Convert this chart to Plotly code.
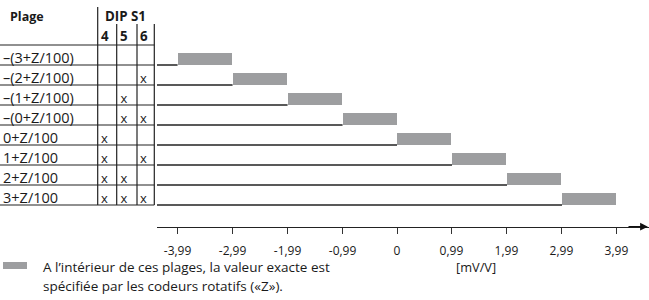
import plotly.graph_objects as go

# ---------------- data ----------------
range_labels = ["–(3+Z/100)", "–(2+Z/100)", "–(1+Z/100)", "–(0+Z/100)",
                "0+Z/100", "1+Z/100", "2+Z/100", "3+Z/100"]
range_start = [-3.99, -2.99, -1.99, -0.99, 0.00, 1.00, 2.00, 3.00]
range_end = [-3.00, -2.00, -1.00, 0.00, 0.99, 1.99, 2.99, 3.99]
dip4 = [0, 0, 0, 0, 1, 1, 1, 1]
dip5 = [0, 0, 1, 1, 0, 0, 1, 1]
dip6 = [0, 1, 0, 1, 0, 1, 0, 1]
dip_names = ["4", "5", "6"]
tick_vals = [-3.99, -2.99, -1.99, -0.99, 0, 0.99, 1.99, 2.99, 3.99]
tick_text = ["-3,99", "-2,99", "-1,99", "-0,99", "0", "0,99", "1,99", "2,99", "3,99"]
unit_label = "[mV/V]"
legend_lines = ["A l’intérieur de ces plages, la valeur exacte est",
                "spécifiée par les codeurs rotatifs («Z»)."]

# ---------------- style ----------------
FONT = "Open Sans"
TXT = "#1a1a1a"
BAR = "#9d9ea0"
LINE = "#222222"
W, H = 649, 300

rows = list(range(len(range_labels)))
XMIN, XMAX = -4.364, 4.582
Y_BOTTOM, Y_TOP = 8.085, -3.25
ydom0 = 1 - 226.7 / H
split = 157 / W

fig = go.Figure()

# grey range bars (sit on top of each row line)
fig.add_trace(go.Bar(
    orientation="h", y=rows,
    x=[e - s for s, e in zip(range_start, range_end)], base=range_start,
    width=0.625, offset=-0.625, marker=dict(color=BAR, line=dict(width=0)),
    xaxis="x2", yaxis="y", showlegend=False, hoverinfo="skip"))

# row lines from the left edge to the start of each range
lx, ly = [], []
for r, s in zip(rows, range_start):
    lx += [XMIN, s, None]
    ly += [r, r, None]
fig.add_trace(go.Scatter(x=lx, y=ly, mode="lines", line=dict(color=LINE, width=1.3),
                         xaxis="x2", yaxis="y", showlegend=False, hoverinfo="skip"))

# DIP table crosses
col_x = [104.5, 123.8, 143.5]
mx, my = [], []
for c, col in enumerate([dip4, dip5, dip6]):
    for r, v in zip(rows, col):
        if v:
            mx.append(col_x[c])
            my.append(r - 0.27)
fig.add_trace(go.Scatter(x=mx, y=my, mode="text", text=["x"] * len(mx),
                         textfont=dict(family=FONT, size=13, color=TXT),
                         xaxis="x", yaxis="y", showlegend=False, hoverinfo="skip"))

shapes = []
annotations = []
# table horizontal lines
for r in [-1] + rows:
    shapes.append(dict(type="line", xref="x", yref="y", x0=0, x1=154.3, y0=r, y1=r,
                       line=dict(color=LINE, width=1.2)))
# table vertical lines
shapes.append(dict(type="line", xref="x", yref="y", x0=97.7, x1=97.7, y0=-2.9, y1=rows[-1],
                   line=dict(color=LINE, width=1.2)))
for vx in [116.7, 137.0, 154.3]:
    shapes.append(dict(type="line", xref="x", yref="y", x0=vx, x1=vx, y0=-2.05, y1=rows[-1],
                       line=dict(color=LINE, width=1.2)))

# headers
annotations.append(dict(xref="x", yref="y", x=8, y=-2.45, text="<b>Plage</b>", showarrow=False,
                        xanchor="left", yanchor="middle", font=dict(family=FONT, size=12.5, color=TXT)))
annotations.append(dict(xref="x", yref="y", x=103, y=-2.45, text="<b>DIP S1</b>", showarrow=False,
                        xanchor="left", yanchor="middle", font=dict(family=FONT, size=13.3, color=TXT)))
for cx, n in zip(col_x, dip_names):
    annotations.append(dict(xref="x", yref="y", x=cx, y=-1.45, text="<b>%s</b>" % n, showarrow=False,
                            xanchor="center", yanchor="middle", font=dict(family=FONT, size=13.3, color=TXT)))
# row labels
for r, lab in zip(rows, range_labels):
    annotations.append(dict(xref="x", yref="y", x=0.5, y=r - 0.36, text=lab, showarrow=False,
                            xanchor="left", yanchor="middle", font=dict(family=FONT, size=14.5, color=TXT)))

# axis arrow
annotations.append(dict(xref="x2", yref="y", x=XMAX - 0.02, y=Y_BOTTOM, axref="x2", ayref="y",
                        ax=XMAX - 0.4, ay=Y_BOTTOM, text="", showarrow=True, arrowhead=2,
                        arrowsize=1.3, arrowwidth=1.2, arrowcolor="#111111", standoff=0))

# legend
shapes.append(dict(type="rect", xref="paper", yref="paper", x0=3 / W, x1=27 / W,
                   y0=1 - 269 / H, y1=1 - 262 / H, fillcolor=BAR, line=dict(width=0)))
for i, t in enumerate(legend_lines):
    annotations.append(dict(xref="paper", yref="paper", x=41 / W, y=1 - (267 + 19 * i) / H, text=t,
                            showarrow=False, xanchor="left", yanchor="middle", align="left",
                            font=dict(family=FONT, size=13.5, color=TXT)))
annotations.append(dict(xref="paper", yref="paper", x=476 / W, y=1 - 267 / H, text=unit_label,
                        showarrow=False, xanchor="center", yanchor="middle",
                        font=dict(family=FONT, size=12.8, color=TXT)))

fig.update_layout(
    width=W, height=H, margin=dict(l=0, r=0, t=0, b=0),
    paper_bgcolor="white", plot_bgcolor="rgba(0,0,0,0)",
    bargap=0, barmode="overlay",
    xaxis=dict(domain=[0, split], range=[0, 157], visible=False, fixedrange=True, anchor="y"),
    xaxis2=dict(domain=[split, 1], range=[XMIN, XMAX], anchor="y", showgrid=False, zeroline=False,
                showline=True, linecolor="#222222", linewidth=1.2,
                ticks="outside", ticklen=6, tickwidth=1, tickcolor="#333333",
                tickvals=tick_vals, ticktext=tick_text, ticklabelstandoff=7,
                tickfont=dict(family=FONT, size=12, color=TXT)),
    yaxis=dict(domain=[ydom0, 1], range=[Y_BOTTOM, Y_TOP], visible=False, anchor="x2"),
    shapes=shapes, annotations=annotations,
)

fig.write_html("out.html", config={"displayModeBar": False},
               post_script="document.body.style.margin='0';document.body.style.overflow='hidden';")
